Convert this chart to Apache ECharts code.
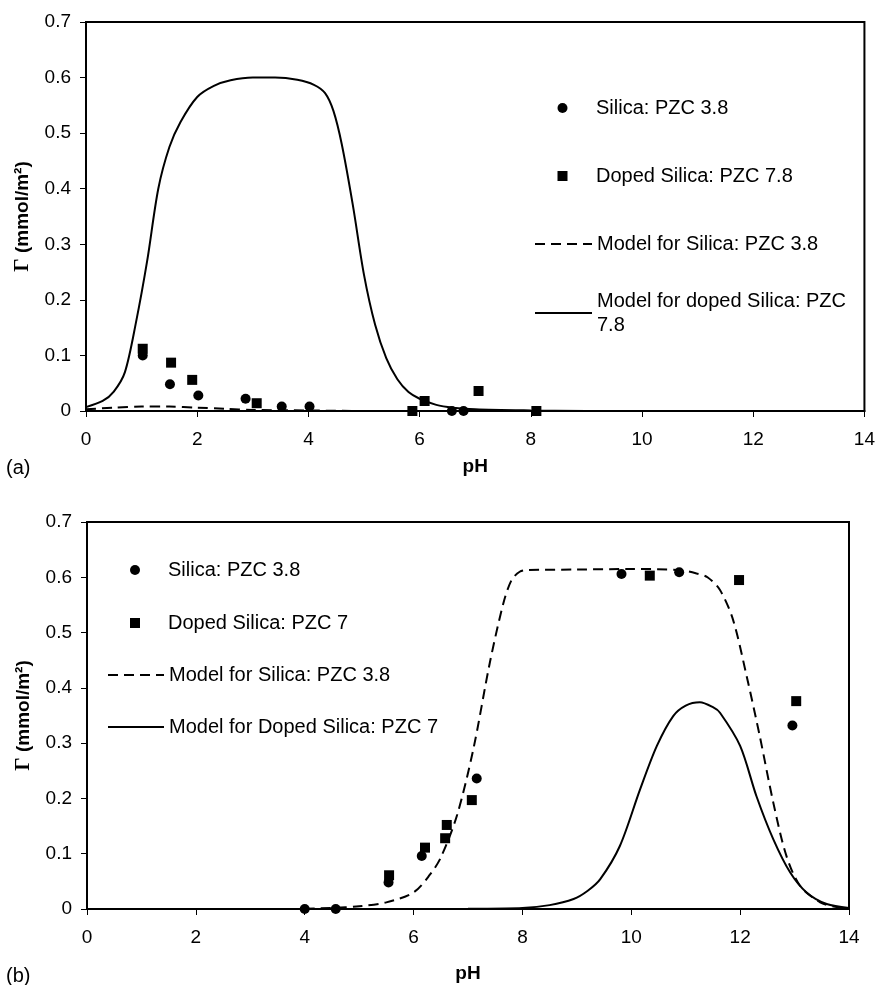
<!DOCTYPE html>
<html>
<head>
<meta charset="utf-8">
<script src="https://cdn.jsdelivr.net/npm/echarts@6/dist/echarts.min.js"></script>
<style>
  html, body { margin: 0; padding: 0; background: #fff; }
  #chart { width: 878px; height: 985px; }
</style>
</head>
<body>
<div id="chart"></div>
<script>
// (a) measured points, [pH, Γ]
var silicaA = [[1.02, 0.100], [1.51, 0.048], [2.02, 0.028], [2.87, 0.022], [3.52, 0.008], [4.02, 0.008], [6.58, 0], [6.79, 0]];
var dopedA = [[1.02, 0.112], [1.53, 0.087], [1.91, 0.056], [3.07, 0.014], [5.87, 0], [6.09, 0.018], [7.06, 0.036], [8.10, 0]];
// (a) model curves
var modelSilicaA = [[0, 0.003], [0.5, 0.006], [1.0, 0.008], [1.5, 0.008], [2.0, 0.006], [2.5, 0.004], [3.0, 0.002], [4.0, 0.001], [5.0, 0], [9.0, 0]];
var modelDopedA = [[0, 0.007], [0.3, 0.018], [0.5, 0.035], [0.7, 0.07], [0.9, 0.16], [1.1, 0.27], [1.3, 0.40], [1.5, 0.475], [1.7, 0.52],
    [2.0, 0.565], [2.3, 0.585], [2.6, 0.595], [3.0, 0.600], [3.4, 0.600], [3.8, 0.596], [4.1, 0.587], [4.3, 0.572], [4.45, 0.54],
    [4.6, 0.48], [4.8, 0.37], [5.0, 0.245], [5.2, 0.155], [5.4, 0.095], [5.6, 0.057], [5.8, 0.034], [6.0, 0.022], [6.3, 0.011],
    [6.6, 0.006], [7.0, 0.003], [8.0, 0.001], [9.0, 0]];

// (b) measured points
var silicaB = [[4.0, 0], [4.57, 0], [5.54, 0.048], [6.15, 0.096], [7.16, 0.236], [9.82, 0.606], [10.88, 0.609], [12.96, 0.332]];
var dopedB = [[5.55, 0.061], [6.21, 0.111], [6.58, 0.128], [6.61, 0.152], [7.07, 0.197], [10.34, 0.603], [11.98, 0.595], [13.03, 0.376]];
// (b) model curves
var modelSilicaB = [[4.0, 0.0005], [4.5, 0.002], [5.0, 0.005], [5.5, 0.012], [6.0, 0.03], [6.3, 0.062], [6.5, 0.093], [6.8, 0.17],
    [7.1, 0.29], [7.4, 0.445], [7.65, 0.553], [7.8, 0.595], [7.95, 0.61], [8.1, 0.613], [9.0, 0.614], [10.0, 0.615], [10.9, 0.613],
    [11.2, 0.607], [11.4, 0.60], [11.63, 0.577], [11.87, 0.523], [12.12, 0.421], [12.36, 0.313], [12.61, 0.192], [12.85, 0.096],
    [13.1, 0.042], [13.47, 0.012], [13.75, 0.004], [14.0, 0.001]];
var modelDopedB = [[4.0, 0], [6.0, 0], [7.0, 0.0005], [8.0, 0.002], [8.5, 0.007], [8.94, 0.018], [9.2, 0.033], [9.43, 0.054],
    [9.79, 0.114], [10.16, 0.216], [10.47, 0.295], [10.77, 0.349], [11.0, 0.368], [11.26, 0.374], [11.5, 0.365], [11.63, 0.355],
    [12.0, 0.295], [12.3, 0.204], [12.61, 0.126], [12.92, 0.066], [13.22, 0.03], [13.59, 0.009], [14.0, 0.002]];

var font = 'Liberation Sans, Arial, sans-serif';
var dash = [10, 6];
var squareIcon = 'path://M0,0H10V10H0Z';

var chart = echarts.init(document.getElementById('chart'));

function xAxisOf(i, gap) {
    return {
        type: 'value', gridIndex: i, min: 0, max: 14, interval: 2,
        name: 'pH', nameLocation: 'middle', nameGap: gap,
        nameTextStyle: { fontFamily: font, fontSize: 19, fontWeight: 'bold', color: '#000', lineHeight: 20 },
        axisLine: { lineStyle: { color: '#000', width: 2 } },
        axisTick: { length: 6, lineStyle: { color: '#000', width: 1 } },
        axisLabel: { fontFamily: font, fontSize: 19, color: '#000', margin: 19 },
        splitLine: { show: false }
    };
}
function yAxisOf(i) {
    return {
        type: 'value', gridIndex: i, min: 0, max: 0.7, interval: 0.1,
        name: '{g|Γ} (mmol/m²)', nameLocation: 'middle', nameGap: 53,
        nameTextStyle: {
            fontFamily: font, fontSize: 19, fontWeight: 'bold', color: '#000',
            rich: { g: { fontFamily: 'Liberation Serif, serif', fontSize: 21, fontWeight: 'bold', color: '#000' } }
        },
        axisLine: { lineStyle: { color: '#000', width: 2 } },
        axisTick: { length: 6, lineStyle: { color: '#000', width: 1 } },
        axisLabel: { fontFamily: font, fontSize: 19, color: '#000', margin: 15 },
        splitLine: { show: false }
    };
}

// one legend per entry so each can sit where the original put it
// left = start of the line sample; cy = vertical centre of the key
function legendItem(name, kind, left, cy, w, twoLines) {
    var lg = {
        data: [kind === 'rect' ? { name: name, icon: squareIcon } : name],
        left: left, top: twoLines ? cy - 36 : cy - 10, padding: 0,
        itemWidth: w, itemHeight: 10,
        selectedMode: false,
        textStyle: { fontFamily: font, fontSize: 20, color: '#000', lineHeight: 20 }
    };
    if (kind === 'line') {
        lg.itemStyle = { opacity: 0 };
    } else {
        // marker-only keys: bounding box starts at the marker, not the key area
        lg.left = left + w / 2 - 5;
    }
    if (twoLines) {
        lg.formatter = function () { return 'Model for doped Silica: PZC\n7.8'; };
        lg.textStyle.lineHeight = 24;
        lg.textStyle.padding = [24, 0, 0, 0];
    }
    return lg;
}

function scatter(name, sym, data, i) {
    return {
        name: name, type: 'scatter', xAxisIndex: i, yAxisIndex: i, data: data,
        symbol: sym, symbolSize: 10, itemStyle: { color: '#000', opacity: 1 }, z: 5
    };
}
function model(name, type, data, i) {
    return {
        name: name, type: 'line', xAxisIndex: i, yAxisIndex: i, data: data,
        symbol: 'none', smooth: 0.3, itemStyle: { color: '#000' },
        lineStyle: { color: '#000', width: 2, type: type }, z: 3
    };
}

var option = {
    animation: false,
    backgroundColor: '#fff',
    title: [
        { text: '(a)', left: 6, top: 458, padding: 0, textStyle: { fontFamily: font, fontSize: 20, fontWeight: 'normal', color: '#000', lineHeight: 20 } },
        { text: '(b)', left: 6, top: 966, padding: 0, textStyle: { fontFamily: font, fontSize: 20, fontWeight: 'normal', color: '#000', lineHeight: 20 } }
    ],
    grid: [
        { left: 86, top: 22, right: 12, height: 389, show: true, borderColor: '#000', borderWidth: 2, backgroundColor: '#fff' },
        { left: 87, top: 522, right: 29, height: 388, show: true, borderColor: '#000', borderWidth: 2, backgroundColor: '#fff' }
    ],
    xAxis: [xAxisOf(0, 46), xAxisOf(1, 55)],
    yAxis: [yAxisOf(0), yAxisOf(1)],
    legend: [
        legendItem('Silica: PZC 3.8', 'circle', 534, 108, 57),
        legendItem('Doped Silica: PZC 7.8', 'rect', 534, 176, 57),
        legendItem('Model for Silica: PZC 3.8', 'line', 534, 244, 57),
        legendItem('Model for doped Silica: PZC 7.8', 'line', 534, 313, 57, true),
        legendItem('Silica: PZC 3.8', 'circle', 107, 570, 56),
        legendItem('Doped Silica: PZC 7', 'rect', 107, 623, 56),
        legendItem('Model for Silica: PZC 3.8', 'line', 107, 675, 56),
        legendItem('Model for Doped Silica: PZC 7', 'line', 107, 727, 56)
    ],
    series: [
        model('Model for Silica: PZC 3.8', dash, modelSilicaA, 0),
        model('Model for doped Silica: PZC 7.8', 'solid', modelDopedA, 0),
        scatter('Silica: PZC 3.8', 'circle', silicaA, 0),
        scatter('Doped Silica: PZC 7.8', 'rect', dopedA, 0),
        model('Model for Silica: PZC 3.8', dash, modelSilicaB, 1),
        model('Model for Doped Silica: PZC 7', 'solid', modelDopedB, 1),
        scatter('Silica: PZC 3.8', 'circle', silicaB, 1),
        scatter('Doped Silica: PZC 7', 'rect', dopedB, 1)
    ]
};
chart.setOption(option);
</script>
</body>
</html>
